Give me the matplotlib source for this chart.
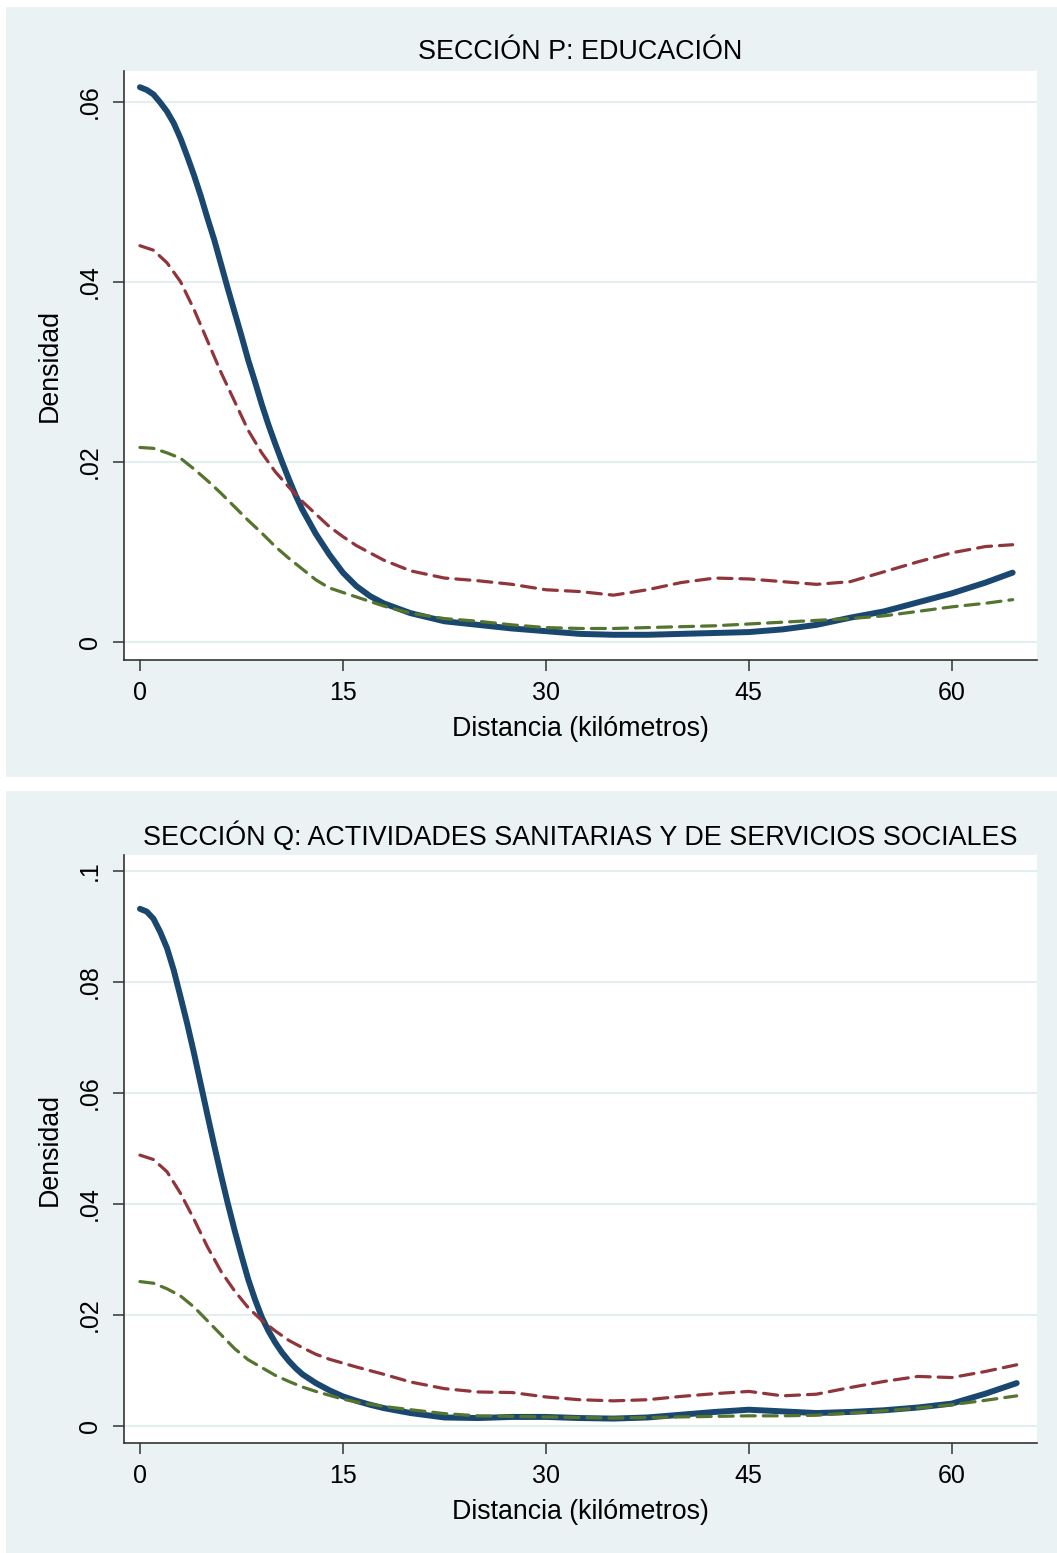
import matplotlib
matplotlib.use('Agg')
import matplotlib.pyplot as plt
from matplotlib.patches import Rectangle

plt.rcParams['font.family'] = ['Liberation Sans', 'DejaVu Sans']

# Distances (km) where the densities were read
km_fine_p = [0, 0.5, 1, 1.5, 2, 2.5, 3, 3.5, 4, 4.5, 5, 5.5, 6, 6.5, 7, 7.5, 8, 8.5, 9, 9.5,
             10, 10.5, 11, 11.5, 12, 13, 14, 15, 16, 17, 18, 20, 22.5, 25, 27.5, 30, 32.5,
             35, 37.5, 40, 42.5, 45, 47.5, 50, 52.5, 55, 57.5, 60, 62.5, 64.5]
km_fine_q = km_fine_p[:-1] + [64.8]
km_p = [0, 1, 2, 3, 4, 5, 6, 7, 8, 9, 10, 11, 12, 13, 14, 15, 16, 18, 20, 22.5,
        25, 27.5, 30, 32.5, 35, 37.5, 40, 42.5, 45, 47.5, 50, 52.5, 55, 57.5, 60, 62.5, 64.5]
km_q = km_p[:-1] + [64.8]

# Section P: Educación
p_navy = [0.0616, 0.0613, 0.0608, 0.0599, 0.0589, 0.0576, 0.0559, 0.0539, 0.0518, 0.0495,
          0.0470, 0.0446, 0.0419, 0.0392, 0.0366, 0.0340, 0.0313, 0.0289, 0.0264, 0.0241,
          0.0220, 0.0200, 0.0181, 0.0163, 0.0147, 0.0120, 0.0097, 0.0077, 0.0062, 0.0051,
          0.0043, 0.0032, 0.0023, 0.0019, 0.0015, 0.0012, 0.0009, 0.0008, 0.0008, 0.0009,
          0.0010, 0.0011, 0.0014, 0.0019, 0.0027, 0.0034, 0.0044, 0.0054, 0.0066, 0.0077]
p_red = [0.0440, 0.0435, 0.0421, 0.0400, 0.0369, 0.0334, 0.0299, 0.0267, 0.0235, 0.0210,
         0.0189, 0.0172, 0.0156, 0.0142, 0.0128, 0.0117, 0.0107, 0.0091, 0.0079, 0.0071,
         0.0068, 0.0064, 0.0058, 0.0056, 0.0052, 0.0058, 0.0066, 0.0071, 0.0070, 0.0067,
         0.0064, 0.0067, 0.0078, 0.0089, 0.0099, 0.0106, 0.0108]
p_green = [0.0216, 0.0215, 0.0210, 0.0204, 0.0192, 0.0179, 0.0165, 0.0150, 0.0135, 0.0121,
           0.0106, 0.0093, 0.0081, 0.0069, 0.0060, 0.0055, 0.0050, 0.0040, 0.0032, 0.0026,
           0.0023, 0.0019, 0.0016, 0.0015, 0.0015, 0.0016, 0.0017, 0.0018, 0.0020, 0.0022,
           0.0024, 0.0026, 0.0029, 0.0034, 0.0039, 0.0043, 0.0047]

# Section Q: Actividades sanitarias y de servicios sociales
q_navy = [0.0932, 0.0927, 0.0914, 0.0890, 0.0861, 0.0821, 0.0773, 0.0724, 0.0671, 0.0615,
          0.0559, 0.0504, 0.0451, 0.0400, 0.0352, 0.0307, 0.0264, 0.0228, 0.0196, 0.0171,
          0.0150, 0.0132, 0.0117, 0.0104, 0.0093, 0.0077, 0.0064, 0.0053, 0.0045, 0.0038,
          0.0032, 0.0023, 0.0015, 0.0014, 0.0016, 0.0016, 0.0014, 0.0013, 0.0015, 0.0020,
          0.0025, 0.0029, 0.0026, 0.0023, 0.0025, 0.0028, 0.0033, 0.0040, 0.0058, 0.0077]
q_red = [0.0488, 0.0480, 0.0458, 0.0419, 0.0372, 0.0322, 0.0278, 0.0243, 0.0213, 0.0190,
         0.0171, 0.0154, 0.0141, 0.0129, 0.0120, 0.0113, 0.0106, 0.0093, 0.0079, 0.0067,
         0.0061, 0.0060, 0.0052, 0.0047, 0.0045, 0.0047, 0.0053, 0.0058, 0.0062, 0.0054,
         0.0057, 0.0069, 0.0080, 0.0089, 0.0087, 0.0098, 0.0110]
q_green = [0.0260, 0.0257, 0.0247, 0.0234, 0.0214, 0.0189, 0.0164, 0.0139, 0.0119, 0.0105,
           0.0091, 0.0080, 0.0070, 0.0062, 0.0055, 0.0048, 0.0043, 0.0035, 0.0029, 0.0022,
           0.0018, 0.0017, 0.0016, 0.0015, 0.0014, 0.0015, 0.0016, 0.0017, 0.0018, 0.0018,
           0.0019, 0.0023, 0.0027, 0.0032, 0.0038, 0.0046, 0.0054]

titles = ['SECCIÓN P: EDUCACIÓN',
          'SECCIÓN Q: ACTIVIDADES SANITARIAS Y DE SERVICIOS SOCIALES']
x_ticks = [0, 15, 30, 45, 60]
p_yticks = [0, 0.02, 0.04, 0.06]
p_ylabels = ['0', '.02', '.04', '.06']
q_yticks = [0, 0.02, 0.04, 0.06, 0.08, 0.1]
q_ylabels = ['0', '.02', '.04', '.06', '.08', '.1']

BG = '#EAF2F3'
GRID = '#E4EDEF'
NAVY = '#1A476F'
MAROON = '#90353B'
GREEN = '#55752F'

W, H = 1057, 1553
fig = plt.figure(figsize=(W / 100, H / 100), dpi=100)
fig.patch.set_facecolor('white')

# panel backgrounds (pixel boxes of the two graph regions)
fig.patches.append(Rectangle((6 / W, 1 - 777 / H), (W - 6) / W, 770 / H,
                             transform=fig.transFigure, facecolor=BG, edgecolor='none', zorder=-10))
fig.patches.append(Rectangle((6 / W, 0), (W - 6) / W, (H - 791) / H,
                             transform=fig.transFigure, facecolor=BG, edgecolor='none', zorder=-10))

left, right = 124 / W, 1037 / W
ax1 = fig.add_axes([left, 1 - 660 / H, right - left, (660 - 71) / H])
ax2 = fig.add_axes([left, 1 - 1443 / H, right - left, (1443 - 855) / H])

panels = [
    (ax1, km_fine_p, p_navy, km_p, p_red, p_green, p_yticks, p_ylabels, (-0.002, 0.0634), 52),
    (ax2, km_fine_q, q_navy, km_q, q_red, q_green, q_yticks, q_ylabels, (-0.0031, 0.1029), 836),
]

for i, (ax, kmf, navy, km, red, green, yt, yl, ylim, title_y) in enumerate(panels):
    ax.set_facecolor('white')
    for y in yt:
        ax.axhline(y, color=GRID, linewidth=1.6, zorder=0)

    ax.plot(kmf, navy, color=NAVY, linewidth=4.3, solid_capstyle='round',
            solid_joinstyle='round', zorder=3)
    ax.plot(km, red, color=MAROON, linewidth=2.3, dashes=(4.4, 2.5),
            dash_capstyle='round', zorder=4)
    ax.plot(km, green, color=GREEN, linewidth=2.3, dashes=(4.4, 2.5),
            dash_capstyle='round', zorder=5)

    ax.set_xlim(-1.18, 66.3)
    ax.set_ylim(*ylim)
    ax.set_xticks(x_ticks)
    ax.set_xticklabels([str(t) for t in x_ticks])
    ax.set_yticks(yt)
    ax.set_yticklabels(yl, rotation=90, va='center')

    for s in ['top', 'right']:
        ax.spines[s].set_visible(False)
    for s in ['left', 'bottom']:
        ax.spines[s].set_color('#333333')
        ax.spines[s].set_linewidth(1.2)
    ax.tick_params(axis='both', length=8, width=1.1, color='#333333',
                   labelsize=18, labelcolor='black')
    ax.tick_params(axis='x', pad=7)
    ax.tick_params(axis='y', pad=8)

    ax.set_xlabel('Distancia (kilómetros)', fontsize=19.3)
    ax.xaxis.set_label_coords(0.5, -69 / 589)
    ax.xaxis.label.set_va('center')
    ax.set_ylabel('Densidad', fontsize=19.3)
    ax.yaxis.set_label_coords(-74 / 913, 0.5)
    ax.yaxis.label.set_va('center')

    fig.text(580 / W, 1 - title_y / H, titles[i], fontsize=19.4,
             ha='center', va='center')

plt.savefig('out.png', dpi=100, facecolor=fig.get_facecolor())
